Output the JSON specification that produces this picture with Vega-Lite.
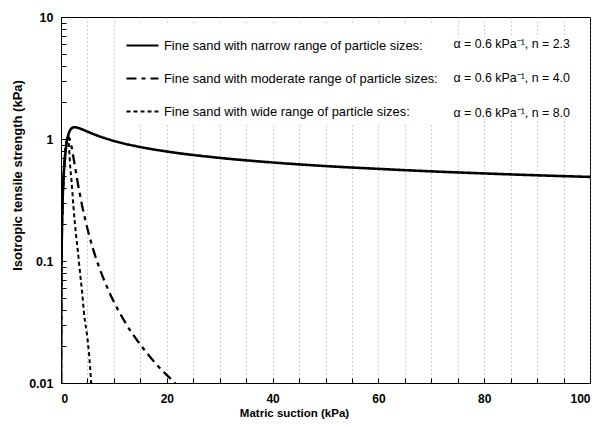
{
  "$schema": "https://vega.github.io/schema/vega-lite/v6.json",
  "autosize": "none",
  "padding": {"left": 61, "top": 17, "right": 9, "bottom": 44},
  "width": 529,
  "height": 366,
  "background": "white",
  "config": {
    "view": {"stroke": "black", "strokeWidth": 1},
    "font": "Liberation Sans"
  },
  "data": {
    "values": [
      {"label": "Fine sand with narrow range of  particle sizes:", "param": "α = 0.6 kPa⁻¹, n = 2.3", "psi": 0.01, "s": 0.01},
      {"label": "Fine sand with narrow range of  particle sizes:", "param": "α = 0.6 kPa⁻¹, n = 2.3", "psi": 0.05, "s": 0.05},
      {"label": "Fine sand with narrow range of  particle sizes:", "param": "α = 0.6 kPa⁻¹, n = 2.3", "psi": 0.1, "s": 0.1},
      {"label": "Fine sand with narrow range of  particle sizes:", "param": "α = 0.6 kPa⁻¹, n = 2.3", "psi": 0.2, "s": 0.2},
      {"label": "Fine sand with narrow range of  particle sizes:", "param": "α = 0.6 kPa⁻¹, n = 2.3", "psi": 0.5, "s": 0.49},
      {"label": "Fine sand with narrow range of  particle sizes:", "param": "α = 0.6 kPa⁻¹, n = 2.3", "psi": 0.75, "s": 0.7},
      {"label": "Fine sand with narrow range of  particle sizes:", "param": "α = 0.6 kPa⁻¹, n = 2.3", "psi": 1.0, "s": 0.88},
      {"label": "Fine sand with narrow range of  particle sizes:", "param": "α = 0.6 kPa⁻¹, n = 2.3", "psi": 1.5, "s": 1.12},
      {"label": "Fine sand with narrow range of  particle sizes:", "param": "α = 0.6 kPa⁻¹, n = 2.3", "psi": 2.0, "s": 1.22},
      {"label": "Fine sand with narrow range of  particle sizes:", "param": "α = 0.6 kPa⁻¹, n = 2.3", "psi": 2.5, "s": 1.25},
      {"label": "Fine sand with narrow range of  particle sizes:", "param": "α = 0.6 kPa⁻¹, n = 2.3", "psi": 3.0, "s": 1.24},
      {"label": "Fine sand with narrow range of  particle sizes:", "param": "α = 0.6 kPa⁻¹, n = 2.3", "psi": 4.0, "s": 1.2},
      {"label": "Fine sand with narrow range of  particle sizes:", "param": "α = 0.6 kPa⁻¹, n = 2.3", "psi": 5.0, "s": 1.15},
      {"label": "Fine sand with narrow range of  particle sizes:", "param": "α = 0.6 kPa⁻¹, n = 2.3", "psi": 7.0, "s": 1.062},
      {"label": "Fine sand with narrow range of  particle sizes:", "param": "α = 0.6 kPa⁻¹, n = 2.3", "psi": 10.0, "s": 0.965},
      {"label": "Fine sand with narrow range of  particle sizes:", "param": "α = 0.6 kPa⁻¹, n = 2.3", "psi": 15.0, "s": 0.859},
      {"label": "Fine sand with narrow range of  particle sizes:", "param": "α = 0.6 kPa⁻¹, n = 2.3", "psi": 20.0, "s": 0.79},
      {"label": "Fine sand with narrow range of  particle sizes:", "param": "α = 0.6 kPa⁻¹, n = 2.3", "psi": 30.0, "s": 0.7},
      {"label": "Fine sand with narrow range of  particle sizes:", "param": "α = 0.6 kPa⁻¹, n = 2.3", "psi": 40.0, "s": 0.642},
      {"label": "Fine sand with narrow range of  particle sizes:", "param": "α = 0.6 kPa⁻¹, n = 2.3", "psi": 50.0, "s": 0.6},
      {"label": "Fine sand with narrow range of  particle sizes:", "param": "α = 0.6 kPa⁻¹, n = 2.3", "psi": 60.0, "s": 0.569},
      {"label": "Fine sand with narrow range of  particle sizes:", "param": "α = 0.6 kPa⁻¹, n = 2.3", "psi": 70.0, "s": 0.543},
      {"label": "Fine sand with narrow range of  particle sizes:", "param": "α = 0.6 kPa⁻¹, n = 2.3", "psi": 80.0, "s": 0.522},
      {"label": "Fine sand with narrow range of  particle sizes:", "param": "α = 0.6 kPa⁻¹, n = 2.3", "psi": 90.0, "s": 0.504},
      {"label": "Fine sand with narrow range of  particle sizes:", "param": "α = 0.6 kPa⁻¹, n = 2.3", "psi": 100.0, "s": 0.489},

      {"label": "Fine sand with moderate range of particle sizes:", "param": "α = 0.6 kPa⁻¹, n = 4.0", "psi": 0.01, "s": 0.01},
      {"label": "Fine sand with moderate range of particle sizes:", "param": "α = 0.6 kPa⁻¹, n = 4.0", "psi": 0.1, "s": 0.1},
      {"label": "Fine sand with moderate range of particle sizes:", "param": "α = 0.6 kPa⁻¹, n = 4.0", "psi": 0.3, "s": 0.3},
      {"label": "Fine sand with moderate range of particle sizes:", "param": "α = 0.6 kPa⁻¹, n = 4.0", "psi": 0.5, "s": 0.497},
      {"label": "Fine sand with moderate range of particle sizes:", "param": "α = 0.6 kPa⁻¹, n = 4.0", "psi": 0.75, "s": 0.728},
      {"label": "Fine sand with moderate range of particle sizes:", "param": "α = 0.6 kPa⁻¹, n = 4.0", "psi": 1.0, "s": 0.913},
      {"label": "Fine sand with moderate range of particle sizes:", "param": "α = 0.6 kPa⁻¹, n = 4.0", "psi": 1.25, "s": 1.017},
      {"label": "Fine sand with moderate range of particle sizes:", "param": "α = 0.6 kPa⁻¹, n = 4.0", "psi": 1.5, "s": 1.028},
      {"label": "Fine sand with moderate range of particle sizes:", "param": "α = 0.6 kPa⁻¹, n = 4.0", "psi": 1.75, "s": 0.964},
      {"label": "Fine sand with moderate range of particle sizes:", "param": "α = 0.6 kPa⁻¹, n = 4.0", "psi": 2.0, "s": 0.861},
      {"label": "Fine sand with moderate range of particle sizes:", "param": "α = 0.6 kPa⁻¹, n = 4.0", "psi": 2.5, "s": 0.647},
      {"label": "Fine sand with moderate range of particle sizes:", "param": "α = 0.6 kPa⁻¹, n = 4.0", "psi": 3.0, "s": 0.481},
      {"label": "Fine sand with moderate range of particle sizes:", "param": "α = 0.6 kPa⁻¹, n = 4.0", "psi": 4.0, "s": 0.283},
      {"label": "Fine sand with moderate range of particle sizes:", "param": "α = 0.6 kPa⁻¹, n = 4.0", "psi": 5.0, "s": 0.184},
      {"label": "Fine sand with moderate range of particle sizes:", "param": "α = 0.6 kPa⁻¹, n = 4.0", "psi": 6.0, "s": 0.128},
      {"label": "Fine sand with moderate range of particle sizes:", "param": "α = 0.6 kPa⁻¹, n = 4.0", "psi": 8.0, "s": 0.0723},
      {"label": "Fine sand with moderate range of particle sizes:", "param": "α = 0.6 kPa⁻¹, n = 4.0", "psi": 10.0, "s": 0.0463},
      {"label": "Fine sand with moderate range of particle sizes:", "param": "α = 0.6 kPa⁻¹, n = 4.0", "psi": 12.0, "s": 0.0321},
      {"label": "Fine sand with moderate range of particle sizes:", "param": "α = 0.6 kPa⁻¹, n = 4.0", "psi": 15.0, "s": 0.0206},
      {"label": "Fine sand with moderate range of particle sizes:", "param": "α = 0.6 kPa⁻¹, n = 4.0", "psi": 18.0, "s": 0.0143},
      {"label": "Fine sand with moderate range of particle sizes:", "param": "α = 0.6 kPa⁻¹, n = 4.0", "psi": 20.0, "s": 0.0116},
      {"label": "Fine sand with moderate range of particle sizes:", "param": "α = 0.6 kPa⁻¹, n = 4.0", "psi": 21.6, "s": 0.01},

      {"label": "Fine sand with wide range of particle sizes:", "param": "α = 0.6 kPa⁻¹, n = 8.0", "psi": 0.01, "s": 0.01},
      {"label": "Fine sand with wide range of particle sizes:", "param": "α = 0.6 kPa⁻¹, n = 8.0", "psi": 0.1, "s": 0.1},
      {"label": "Fine sand with wide range of particle sizes:", "param": "α = 0.6 kPa⁻¹, n = 8.0", "psi": 0.5, "s": 0.5},
      {"label": "Fine sand with wide range of particle sizes:", "param": "α = 0.6 kPa⁻¹, n = 8.0", "psi": 0.8, "s": 0.79},
      {"label": "Fine sand with wide range of particle sizes:", "param": "α = 0.6 kPa⁻¹, n = 8.0", "psi": 1.0, "s": 0.95},
      {"label": "Fine sand with wide range of particle sizes:", "param": "α = 0.6 kPa⁻¹, n = 8.0", "psi": 1.2, "s": 1.03},
      {"label": "Fine sand with wide range of particle sizes:", "param": "α = 0.6 kPa⁻¹, n = 8.0", "psi": 1.4, "s": 0.98},
      {"label": "Fine sand with wide range of particle sizes:", "param": "α = 0.6 kPa⁻¹, n = 8.0", "psi": 1.76, "s": 0.58},
      {"label": "Fine sand with wide range of particle sizes:", "param": "α = 0.6 kPa⁻¹, n = 8.0", "psi": 2.0, "s": 0.45},
      {"label": "Fine sand with wide range of particle sizes:", "param": "α = 0.6 kPa⁻¹, n = 8.0", "psi": 2.35, "s": 0.28},
      {"label": "Fine sand with wide range of particle sizes:", "param": "α = 0.6 kPa⁻¹, n = 8.0", "psi": 2.8, "s": 0.17},
      {"label": "Fine sand with wide range of particle sizes:", "param": "α = 0.6 kPa⁻¹, n = 8.0", "psi": 3.2, "s": 0.119},
      {"label": "Fine sand with wide range of particle sizes:", "param": "α = 0.6 kPa⁻¹, n = 8.0", "psi": 3.6, "s": 0.08},
      {"label": "Fine sand with wide range of particle sizes:", "param": "α = 0.6 kPa⁻¹, n = 8.0", "psi": 4.0, "s": 0.055},
      {"label": "Fine sand with wide range of particle sizes:", "param": "α = 0.6 kPa⁻¹, n = 8.0", "psi": 4.35, "s": 0.0375},
      {"label": "Fine sand with wide range of particle sizes:", "param": "α = 0.6 kPa⁻¹, n = 8.0", "psi": 5.1, "s": 0.0213},
      {"label": "Fine sand with wide range of particle sizes:", "param": "α = 0.6 kPa⁻¹, n = 8.0", "psi": 5.5, "s": 0.0135},
      {"label": "Fine sand with wide range of particle sizes:", "param": "α = 0.6 kPa⁻¹, n = 8.0", "psi": 5.7, "s": 0.01}
    ]
  },
  "mark": {"type": "line", "clip": true, "color": "black", "interpolate": "monotone"},
  "encoding": {
    "x": {
      "field": "psi", "type": "quantitative",
      "scale": {"domain": [0, 100], "nice": false, "zero": false},
      "axis": {
        "values": [0,5,10,15,20,25,30,35,40,45,50,55,60,65,70,75,80,85,90,95,100],
        "labelExpr": "datum.value % 20 == 0 ? format(datum.value, 'd') : ''",
        "ticks": true, "tickSize": -5, "tickColor": "black", "tickWidth": 1, "domainColor": "black",
        "grid": true, "gridDash": [1, 3], "gridColor": "#888", "gridWidth": 0.8,
        "labelFont": "Liberation Sans", "labelFontWeight": "bold", "labelFontSize": 12, "labelColor": "black",
        "labelPadding": 15,
        "title": "Matric suction (kPa)",
        "titleFont": "Liberation Sans", "titleFontWeight": "bold", "titleFontSize": 11.5, "titleColor": "black",
        "titleX": 233, "titleY": 30, "titleBaseline": "middle"
      }
    },
    "y": {
      "field": "s", "type": "quantitative",
      "scale": {"type": "log", "domain": [0.01, 10], "nice": false},
      "axis": {
        "values": [0.01,0.02,0.03,0.04,0.05,0.06,0.07,0.08,0.09,0.1,0.2,0.3,0.4,0.5,0.6,0.7,0.8,0.9,1,2,3,4,5,6,7,8,9,10],
        "labelExpr": "(datum.value == 0.01 || datum.value == 0.1 || datum.value == 1 || datum.value == 10) ? format(datum.value, '~g') : ''",
        "ticks": true, "tickSize": -5, "tickColor": "black", "tickWidth": 1, "domainColor": "black",
        "grid": false,
        "labelFont": "Liberation Sans", "labelFontWeight": "bold", "labelFontSize": 12.5, "labelColor": "black",
        "labelPadding": 13,
        "title": "Isotropic tensile strength (kPa)",
        "titleFont": "Liberation Sans", "titleFontWeight": "bold", "titleFontSize": 13, "titleColor": "black",
        "titleX": -44, "titleY": 158, "titleBaseline": "middle"
      }
    },
    "strokeDash": {
      "field": "label", "type": "nominal",
      "scale": {
        "domain": ["Fine sand with narrow range of  particle sizes:", "Fine sand with moderate range of particle sizes:", "Fine sand with wide range of particle sizes:"],
        "range": [[1, 0], [10, 5, 4, 5], [4, 3]]
      },
      "legend": {
        "orient": "none", "legendX": 60, "legendY": 7, "padding": 4,
        "fillColor": "white", "title": null,
        "symbolType": "stroke", "symbolSize": 1024, "symbolStrokeWidth": 2.2, "symbolStrokeColor": "black",
        "labelFont": "Liberation Sans", "labelFontSize": 12.9, "labelColor": "black", "labelLimit": 0,
        "rowPadding": 8
      }
    },
    "strokeWidth": {
      "field": "param", "type": "nominal",
      "scale": {
        "domain": ["α = 0.6 kPa⁻¹, n = 2.3", "α = 0.6 kPa⁻¹, n = 4.0", "α = 0.6 kPa⁻¹, n = 8.0"],
        "range": [2.6, 2, 1.8]
      },
      "legend": {
        "orient": "none", "legendX": 378, "legendY": 20.5, "padding": 0,
        "fillColor": "white", "title": null,
        "symbolType": "stroke", "symbolSize": 1, "symbolOpacity": 0, "symbolStrokeColor": "white",
        "labelOffset": 2,
        "labelFont": "Liberation Sans", "labelFontSize": 12.4, "labelColor": "black", "labelLimit": 0,
        "rowPadding": 21.6
      }
    }
  }
}
